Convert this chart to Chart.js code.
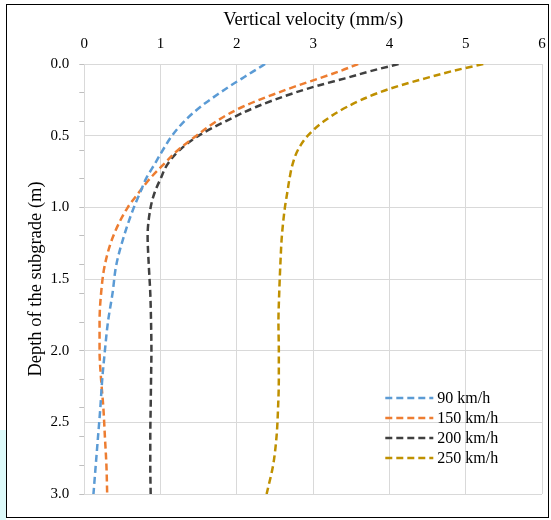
<!DOCTYPE html>
<html>
<head>
<meta charset="utf-8">
<script src="https://cdn.jsdelivr.net/npm/chart.js@4.4.1/dist/chart.umd.min.js"></script>
<style>
    html, body { margin: 0; padding: 0; background: #fff; }
    #wrap { position: relative; width: 551px; height: 520px; }
    #frame {
        position: absolute; left: 6px; top: 4px; width: 543px; height: 514px;
        border: 1.5px solid #000; border-right-width: 1px; box-sizing: border-box;
    }
    #strip { position: absolute; left: 0; top: 430px; width: 6px; height: 90px; background: #dcfafa; }
    canvas { position: absolute; left: 0; top: 0; }
</style>
</head>
<body>
<div id="wrap">
    <div id="strip"></div>
    <div id="frame"></div>
    <canvas id="chart" width="551" height="520"></canvas>
</div>
<script>
// Depth of the subgrade (m), shared by all series
const depth = [0, 0.05, 0.1, 0.15, 0.2, 0.3, 0.4, 0.5, 0.6, 0.7, 0.8, 0.9, 1.0,
               1.2, 1.4, 1.6, 1.8, 2.0, 2.2, 2.4, 2.6, 2.8, 3.0];

// Vertical velocity (mm/s) per train speed
const v90  = [2.37, 2.22, 2.07, 1.92, 1.78, 1.52, 1.31, 1.15, 1.03, 0.92, 0.81, 0.73, 0.65,
              0.52, 0.42, 0.37, 0.31, 0.27, 0.235, 0.21, 0.18, 0.15, 0.12];
const v150 = [3.59, 3.35, 3.08, 2.80, 2.54, 2.07, 1.73, 1.47, 1.23, 1.04, 0.86, 0.71, 0.57,
              0.38, 0.27, 0.22, 0.20, 0.20, 0.22, 0.25, 0.27, 0.29, 0.30];
const v200 = [4.12, 3.75, 3.42, 3.07, 2.76, 2.25, 1.85, 1.50, 1.25, 1.09, 1.00, 0.92, 0.87,
              0.83, 0.845, 0.865, 0.875, 0.88, 0.875, 0.87, 0.865, 0.865, 0.87];
const v250 = [5.23, 4.82, 4.47, 4.14, 3.86, 3.44, 3.14, 2.93, 2.80, 2.73, 2.69, 2.66, 2.63,
              2.59, 2.57, 2.555, 2.545, 2.55, 2.55, 2.54, 2.52, 2.475, 2.39];

const seriesLabels = ['90 km/h', '150 km/h', '200 km/h', '250 km/h'];
const seriesColors = ['#5B9BD5', '#ED7D31', '#404040', '#BF9000'];

const xTicks = [0, 1, 2, 3, 4, 5, 6];
const yTicks = [0, 0.5, 1.0, 1.5, 2.0, 2.5, 3.0];

const serif = "'Times New Roman', 'Liberation Serif', serif";
const gridColor = '#d9d9d9';
const dash = [7, 4];

const toPoints = (vals) => vals.map((v, i) => ({ x: v, y: depth[i] }));

// Legend drawn inside the plot area, lower right
const innerLegend = {
    id: 'innerLegend',
    afterDraw: (chart) => {
        const ctx = chart.ctx;
        const area = chart.chartArea;
        const x0 = area.left + 301;
        const y0 = area.top + 334;
        ctx.save();
        ctx.font = '16px ' + serif;
        ctx.textBaseline = 'middle';
        chart.data.datasets.forEach((ds, i) => {
            const y = y0 + i * 20;
            ctx.beginPath();
            ctx.setLineDash(dash);
            ctx.lineWidth = 2.5;
            ctx.strokeStyle = ds.borderColor;
            ctx.moveTo(x0, y);
            ctx.lineTo(x0 + 48, y);
            ctx.stroke();
            ctx.setLineDash([]);
            ctx.fillStyle = '#000';
            ctx.fillText(ds.label, x0 + 52, y + 1);
        });
        ctx.restore();
    }
};

new Chart(document.getElementById('chart'), {
    type: 'line',
    data: {
        datasets: [v90, v150, v200, v250].map((vals, i) => ({
            label: seriesLabels[i],
            data: toPoints(vals),
            borderColor: seriesColors[i],
            backgroundColor: seriesColors[i],
            borderWidth: 2.5,
            borderDash: dash,
            pointRadius: 0,
            fill: false,
            cubicInterpolationMode: 'monotone'
        }))
    },
    options: {
        responsive: false,
        animation: false,
        indexAxis: 'y',
        layout: { padding: { left: 0, top: 0, right: 9, bottom: 26 } },
        plugins: {
            legend: { display: false },
            tooltip: { enabled: false }
        },
        scales: {
            x: {
                type: 'linear',
                position: 'top',
                min: 0,
                max: 6,
                afterBuildTicks: (scale) => { scale.ticks = xTicks.map(v => ({ value: v })); },
                afterFit: (scale) => {
                    scale.height = 64;
                    scale.paddingLeft = 0;
                    scale.paddingRight = 4;
                },
                ticks: {
                    color: '#000',
                    font: { family: serif, size: 15 },
                    padding: 11,
                    callback: (v) => String(v)
                },
                grid: { color: gridColor, drawTicks: false },
                border: { display: false },
                title: {
                    display: true,
                    text: 'Vertical velocity (mm/s)',
                    color: '#000',
                    font: { family: serif, size: 18.5 },
                    padding: { top: 9, bottom: 0 }
                }
            },
            yMinor: {
                type: 'linear',
                position: 'left',
                reverse: true,
                min: 0,
                max: 3,
                weight: 0,
                ticks: { display: false, stepSize: 0.2 },
                afterFit: (scale) => { scale.width = 5; },
                grid: { drawOnChartArea: false, drawTicks: true, tickLength: 5, color: '#bfbfbf' },
                border: { display: true, color: gridColor }
            },
            y: {
                type: 'linear',
                position: 'left',
                reverse: true,
                min: 0,
                max: 3,
                weight: 1,
                afterBuildTicks: (scale) => { scale.ticks = yTicks.map(v => ({ value: v })); },
                afterFit: (scale) => { scale.width = 79.3; },
                ticks: {
                    color: '#000',
                    font: { family: serif, size: 15 },
                    padding: 10,
                    callback: (v) => v.toFixed(1)
                },
                grid: { color: gridColor, drawTicks: false },
                border: { display: false },
                title: {
                    display: true,
                    text: 'Depth of the subgrade (m)',
                    color: '#000',
                    font: { family: serif, size: 18.5 },
                    padding: { top: 25, bottom: 0 }
                }
            }
        }
    },
    plugins: [innerLegend]
});
</script>
</body>
</html>
